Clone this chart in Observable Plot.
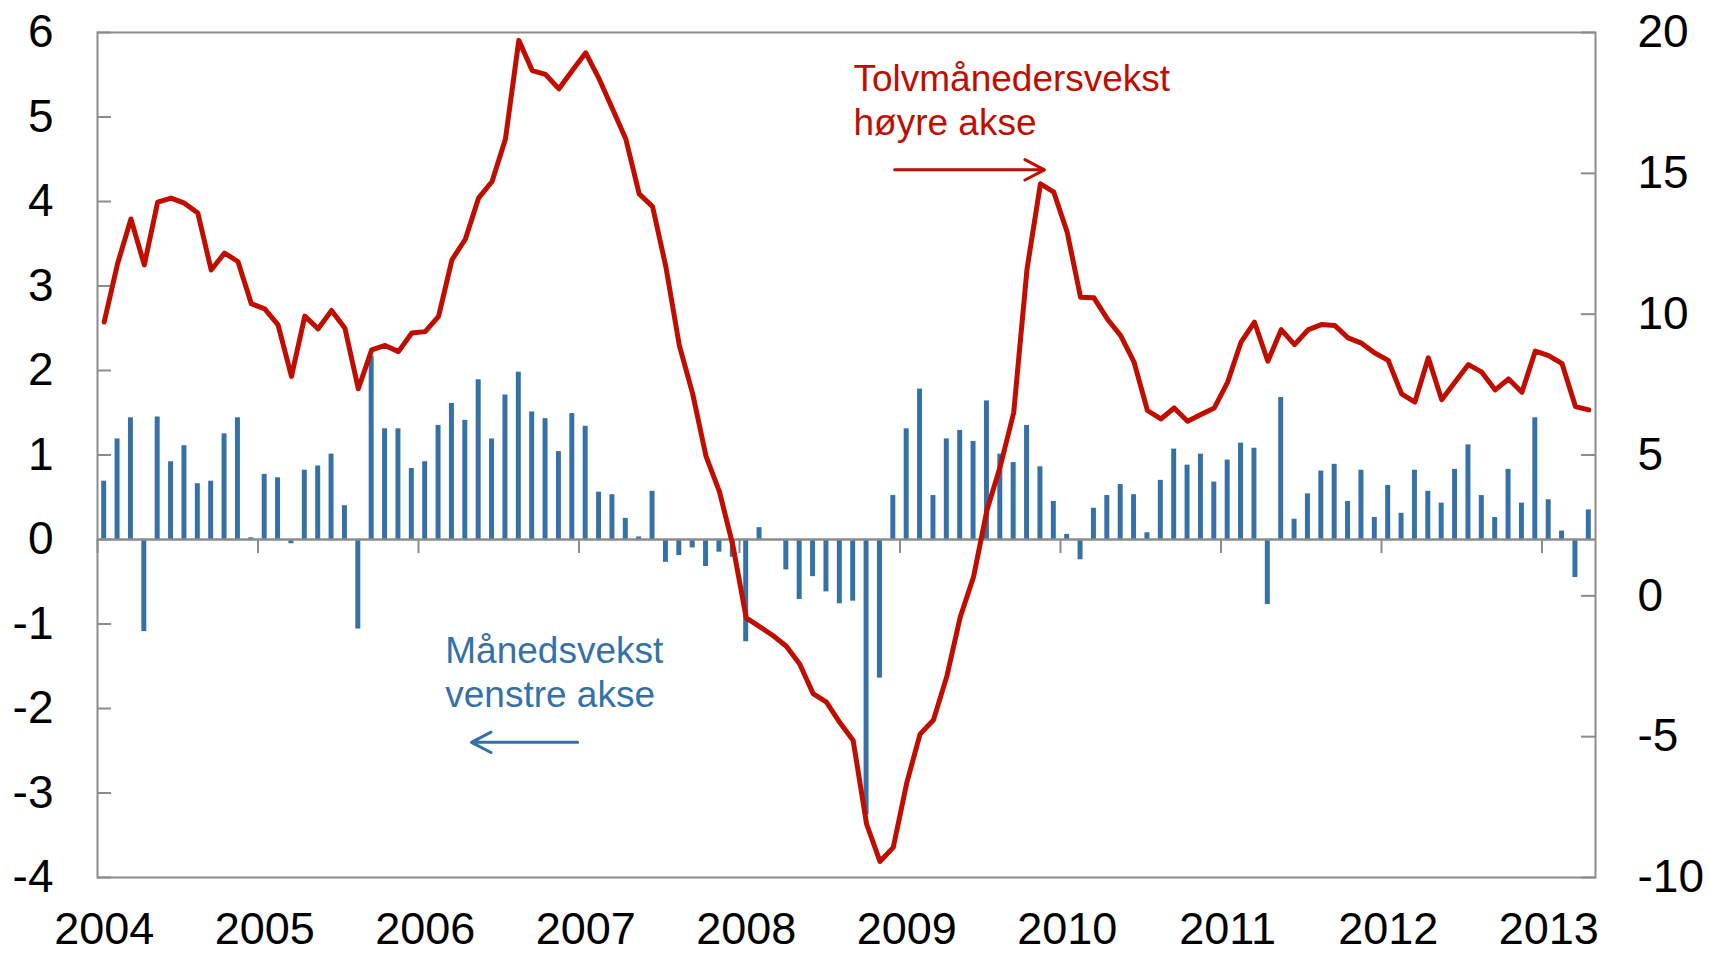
<!DOCTYPE html>
<html>
<head>
<meta charset="utf-8">
<script src="https://cdn.jsdelivr.net/npm/d3@7"></script>
<script src="https://cdn.jsdelivr.net/npm/@observablehq/plot@0.6"></script>
<style>
  html, body { margin: 0; padding: 0; background: #ffffff; overflow: hidden; }
  #chart svg { display: block; }
</style>
</head>
<body>
<div id="chart"></div>
<script>
// Categories: months Jan 2004 – Apr 2013
const months = d3.utcMonth.range(new Date(Date.UTC(2004, 0, 1)), new Date(Date.UTC(2013, 4, 1)));

// Månedsvekst (left axis, per cent)
const monthlyGrowth = [
  0.69, 1.19, 1.44, -1.09, 1.45, 0.92, 1.11, 0.66, 0.69, 1.25, 1.44, 0.02,
  0.77, 0.73, -0.05, 0.82, 0.87, 1.01, 0.40, -1.06, 2.17, 1.31, 1.31, 0.84,
  0.92, 1.35, 1.61, 1.41, 1.89, 1.19, 1.71, 1.98, 1.51, 1.43, 1.04, 1.49,
  1.34, 0.56, 0.53, 0.25, 0.03, 0.57, -0.27, -0.19, -0.10, -0.32, -0.15, -0.21,
  -1.21, 0.14, 0.00, -0.36, -0.71, -0.44, -0.62, -0.76, -0.73, -3.26, -1.64, 0.52,
  1.31, 1.78, 0.52, 1.19, 1.29, 1.16, 1.64, 1.01, 0.91, 1.35, 0.86, 0.45,
  0.06, -0.24, 0.37, 0.52, 0.65, 0.53, 0.08, 0.70, 1.07, 0.88, 1.01, 0.68,
  0.94, 1.14, 1.08, -0.77, 1.68, 0.24, 0.54, 0.81, 0.89, 0.45, 0.82, 0.26,
  0.64, 0.31, 0.82, 0.57, 0.43, 0.83, 1.12, 0.52, 0.26, 0.83, 0.43, 1.44,
  0.47, 0.10, -0.45, 0.35
];

// Tolvmånedersvekst (right axis, per cent)
const twelveMonthGrowth = [
  9.72, 11.79, 13.38, 11.75, 13.98, 14.12, 13.94, 13.59, 11.57, 12.17, 11.87, 10.37,
  10.19, 9.62, 7.79, 9.93, 9.48, 10.13, 9.50, 7.35, 8.73, 8.89, 8.67, 9.33,
  9.38, 9.92, 11.93, 12.66, 14.13, 14.71, 16.22, 19.72, 18.65, 18.51, 18.00, 18.65,
  19.28, 18.36, 17.29, 16.22, 14.27, 13.82, 11.67, 8.89, 7.17, 4.95, 3.70, 1.80,
  -0.78, -1.09, -1.41, -1.79, -2.42, -3.47, -3.77, -4.50, -5.14, -8.10, -9.43, -8.93,
  -6.65, -4.91, -4.41, -2.86, -0.76, 0.68, 3.04, 4.60, 6.50, 11.61, 14.63, 14.33,
  12.91, 10.60, 10.58, 9.83, 9.24, 8.30, 6.58, 6.28, 6.67, 6.20, 6.44, 6.67,
  7.59, 9.01, 9.72, 8.33, 9.45, 8.92, 9.44, 9.63, 9.60, 9.16, 8.97, 8.62,
  8.36, 7.17, 6.88, 8.45, 6.96, 7.59, 8.21, 7.94, 7.31, 7.70, 7.23, 8.69,
  8.53, 8.24, 6.72, 6.60
];

const leftTicks = [-4, -3, -2, -1, 0, 1, 2, 3, 4, 5, 6];
const rightTicks = [-10, -5, 0, 5, 10, 15, 20];
const yearLabels = [2004, 2005, 2006, 2007, 2008, 2009, 2010, 2011, 2012, 2013];

// Annotation texts
const redLabel = "Tolvmånedersvekst\nhøyre akse";
const blueLabel = "Månedsvekst\nvenstre akse";

// Right axis (-10..20) mapped onto left axis (-4..6)
const toLeft = v => (v - 2) / 3;
const fromLeft = v => v * 3 + 2;

const data = months.map((m, i) => ({i, m, bar: monthlyGrowth[i], line: twelveMonthGrowth[i]}));
const yearStart = yearLabels.map(y => months.findIndex(m => m.getUTCFullYear() === y));

const W = 1709, H = 955;
const mL = 97, mR = 114, mT = 32, mB = 78;
const innerW = W - mL - mR;
const innerH = H - mT - mB;
const tickLen = 14;
const yPerPx = 10 / innerH;

const gray = "#8c8c8c";
const red = "#c00d00";
const blue = "#3571a7";
const font = "'Liberation Sans', Arial, Helvetica, sans-serif";

const chart = Plot.plot({
  width: W,
  height: H,
  marginLeft: mL,
  marginRight: mR,
  marginTop: mT,
  marginBottom: mB,
  style: {fontFamily: font, background: "#ffffff", color: "#000000"},
  x: {type: "linear", domain: [0, months.length], axis: null},
  y: {domain: [-4, 6]},
  marks: [
    Plot.rectY(data, {x1: d => d.i, x2: d => d.i + 1, y: "bar", fill: blue, insetLeft: 4.2, insetRight: 4.2}),
    Plot.ruleY([0], {stroke: gray, strokeWidth: 2.5}),
    Plot.ruleX(yearStart, {x: d => d, y1: 0, y2: -tickLen * yPerPx, stroke: gray, strokeWidth: 2}),
    Plot.tickY(leftTicks, {y: d => d, insetRight: innerW - tickLen, stroke: gray, strokeWidth: 2}),
    Plot.tickY(rightTicks.map(toLeft), {y: d => d, insetLeft: innerW - tickLen, stroke: gray, strokeWidth: 2}),
    Plot.frame({stroke: gray, strokeWidth: 2}),
    Plot.line(data, {x: d => d.i + 0.5, y: d => toLeft(d.line), stroke: red, strokeWidth: 5, strokeLinejoin: "round", strokeLinecap: "round"}),
    Plot.axisY(leftTicks, {anchor: "left", tickSize: 0, tickPadding: 44, fontSize: 46, label: null, tickFormat: d => String(d)}),
    Plot.axisY(rightTicks.map(toLeft), {anchor: "right", tickSize: 0, tickPadding: 42, fontSize: 46, label: null, tickFormat: d => String(Math.round(fromLeft(d)))}),
    Plot.axisX(yearStart.map(i => i + 0.5), {anchor: "bottom", tickSize: 0, tickPadding: 35, fontSize: 45, label: null, tickFormat: (d, k) => String(yearLabels[k])}),
    Plot.text([redLabel], {x: 56.52, y: 5.685, text: d => d, textAnchor: "start", lineAnchor: "top", lineHeight: 1.2, fontSize: 37, fill: red}),
    Plot.arrow([0], {x1: 59.6, x2: 70.8, y1: 4.375, y2: 4.375, stroke: red, strokeWidth: 3, headLength: 11, headAngle: 55}),
    Plot.text([blueLabel], {x: 26.0, y: -1.098, text: d => d, textAnchor: "start", lineAnchor: "top", lineHeight: 1.18, fontSize: 37, fill: blue}),
    Plot.arrow([0], {x1: 35.9, x2: 27.96, y1: -2.40, y2: -2.40, stroke: blue, strokeWidth: 3, headLength: 11, headAngle: 55})
  ]
});

document.getElementById("chart").appendChild(chart);
</script>
</body>
</html>
